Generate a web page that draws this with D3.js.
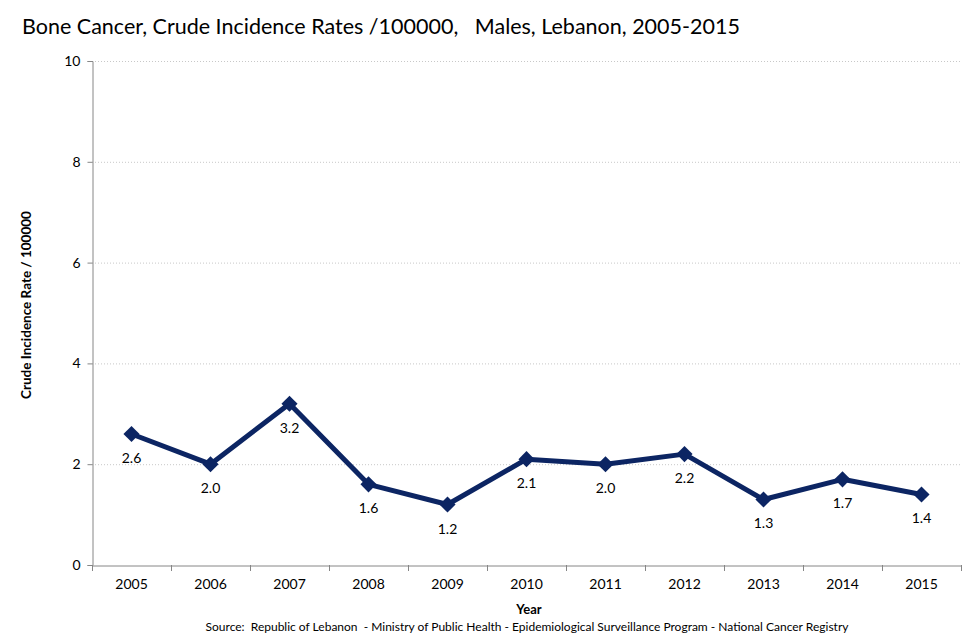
<!DOCTYPE html>
<html><head><meta charset="utf-8">
<script src="https://cdn.jsdelivr.net/npm/d3@7"></script>
<style>body{margin:0;background:#fff}svg{display:block}text{font-family:Lato,"Open Sans",sans-serif;white-space:pre}</style>
</head><body>
<svg id="c" width="976" height="637"></svg>
<script>
const years = ["2005","2006","2007","2008","2009","2010","2011","2012","2013","2014","2015"];
const rates = [2.6,2.0,3.2,1.6,1.2,2.1,2.0,2.2,1.3,1.7,1.4];
const yTicks = [0,2,4,6,8,10];
const title = "Bone Cancer, Crude Incidence Rates /100000,   Males, Lebanon, 2005-2015";
const yTitle = "Crude Incidence Rate / 100000";
const xTitle = "Year";
const source = "Source:  Republic of Lebanon  - Ministry of Public Health - Epidemiological Surveillance Program - National Cancer Registry";

const svg = d3.select("#c");
const m = {l:92, r:961, t:61, b:565};
const x = d3.scaleBand().domain(years).range([m.l, m.r]);
const y = d3.scaleLinear().domain([0,10]).range([m.b, m.t]);

// grid
svg.append("g").selectAll("line").data(yTicks.filter(d=>d>0)).join("line")
  .attr("x1", m.l).attr("x2", m.r).attr("y1", d=>y(d)+0.5).attr("y2", d=>y(d)+0.5)
  .attr("stroke", "#c8c8c8").attr("stroke-dasharray","1,2").attr("stroke-width",1);

// y axis
const ya = svg.append("g").attr("transform", `translate(${m.l+0.5},0)`)
  .call(d3.axisLeft(y).tickValues(yTicks).tickSize(5).tickPadding(7).tickFormat(d3.format("d")));
ya.select(".domain").attr("stroke","#868686");
ya.selectAll(".tick line").attr("stroke","#868686");
ya.selectAll("text").attr("font-size",14).attr("fill","#000").style("font-family","Lato,sans-serif");

// x axis
const xa = svg.append("g").attr("transform", `translate(0,${m.b+0.5})`)
  .call(d3.axisBottom(x).tickSize(0).tickPadding(14));
xa.select(".domain").attr("stroke","#868686");
xa.selectAll("text").attr("font-size",14).attr("fill","#000").style("font-family","Lato,sans-serif");
// category boundary ticks
svg.append("g").selectAll("line").data(d3.range(years.length+1)).join("line")
  .attr("x1", i=>m.l + i*x.step()+0.5).attr("x2", i=>m.l + i*x.step()+0.5)
  .attr("y1", m.b).attr("y2", m.b+6).attr("stroke","#868686");

// line
const cx = d => x(d)+x.bandwidth()/2;
const data = years.map((yr,i)=>({yr, v:rates[i]}));
svg.append("path").datum(data)
  .attr("fill","none").attr("stroke","#0c2563").attr("stroke-width",5).attr("stroke-linejoin","round")
  .attr("d", d3.line().x(d=>cx(d.yr)).y(d=>y(d.v)));
svg.append("g").selectAll("path").data(data).join("path")
  .attr("d", d3.symbol().type(d3.symbolSquare).size(130))
  .attr("transform", d=>`translate(${cx(d.yr)},${y(d.v)}) rotate(45)`)
  .attr("fill","#0c2563");
svg.append("g").selectAll("text").data(data).join("text")
  .attr("x", d=>cx(d.yr)).attr("y", d=>y(d.v)+29)
  .attr("text-anchor","middle").attr("font-size",14).attr("fill","#000")
  .text(d=>d3.format(".1f")(d.v));

// titles
svg.append("text").attr("x",22).attr("y",34).attr("font-size",21.5).attr("fill","#000").text(title);
svg.append("text").attr("transform","translate(31,305) rotate(-90)").attr("text-anchor","middle")
  .attr("font-size",13.5).attr("font-weight","bold").text(yTitle);
svg.append("text").attr("x",529).attr("y",614).attr("text-anchor","middle")
  .attr("font-size",13).attr("font-weight","bold").text(xTitle);
svg.append("text").attr("x",527).attr("y",631).attr("text-anchor","middle")
  .attr("font-size",12).text(source);
</script>
</body></html>
